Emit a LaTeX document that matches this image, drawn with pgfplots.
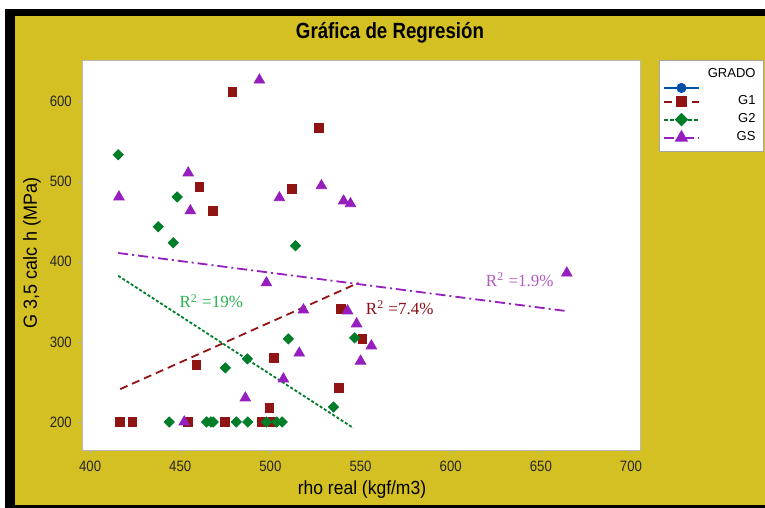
\documentclass[border=0pt]{standalone}
\usepackage{pgfplots}
\pgfplotsset{compat=1.18}
\usepackage{fontspec}
\setmainfont{Liberation Sans}
\newfontfamily\seriffont{Liberation Serif}
\definecolor{bgyellow}{RGB}{212,192,34}
\definecolor{gonered}{RGB}{145,20,20}
\definecolor{gtwogreen}{RGB}{0,125,40}
\definecolor{gspurple}{RGB}{150,30,190}
\definecolor{legblue}{RGB}{0,80,170}
\definecolor{lblgreen}{RGB}{40,180,80}
\definecolor{lblred}{RGB}{140,15,25}
\definecolor{lblpurple}{RGB}{180,90,190}
\begin{document}
\begin{tikzpicture}[x=1pt,y=1pt]
\fill[white] (0,0) rectangle (382.5,254);
\fill[black] (2.5,0) rectangle (382.5,249.5);
\fill[bgyellow] (7.5,1.5) rectangle (382.5,246);
\node[font=\bfseries\fontsize{11}{13}\selectfont] at (195,237.5) {\scalebox{0.85}[1]{Gráfica de Regresión}};
\node[font=\fontsize{9.5}{11}\selectfont] at (181,9) {\scalebox{0.92}[1]{rho real (kgf/m3)}};
\node[font=\fontsize{9.5}{11}\selectfont, rotate=90] at (16,127.5) {\scalebox{0.95}[1]{G 3,5 calc h (MPa)}};
\begin{axis}[
  at={(41pt,29pt)}, anchor=south west,
  scale only axis, width=279pt, height=195pt,
  xmin=395.5, xmax=705, ymin=165, ymax=652,
  xtick={400,450,...,700}, ytick={200,300,...,600},
  axis background/.style={fill=white},
  axis line style={gray!55},
  tick align=outside, major tick length=2pt,
  tick style={gray!60},
  xtick pos=bottom, ytick pos=left,
  /pgf/number format/assume math mode=true,
  ticklabel style={font=\fontsize{7.5}{9}\selectfont, xscale=0.88, text=black!85},
  clip=false,
  legend style={at={(1.034,1)}, anchor=north west, draw=gray!70, fill=white,
    font=\fontsize{6.5}{8}\selectfont, inner sep=2pt, row sep=-1pt, column sep=4pt},
  legend cell align=right,
]
\addlegendimage{empty legend}\addlegendentry{\makebox[22pt][r]{GRADO}}
\addlegendimage{legblue, solid, line width=1pt, mark=*, mark size=2pt}\addlegendentry{}
\addlegendimage{gonered, line width=1pt, dash pattern=on 4pt off 3pt, mark=square*, mark size=2.2pt, mark options={solid}}\addlegendentry{\makebox[22pt][r]{G1}}
\addlegendimage{gtwogreen, line width=1pt, dash pattern=on 1.8pt off 1.2pt, mark=square*, mark size=1.9pt, mark options={solid, rotate=45}}\addlegendentry{\makebox[22pt][r]{G2}}
\addlegendimage{gspurple, line width=1pt, dash pattern=on 5pt off 2pt on 1pt off 2pt, mark=triangle*, mark size=2.9pt, mark options={solid}}\addlegendentry{\makebox[22pt][r]{GS}}

% regression lines
\addplot[forget plot, gonered, line width=0.9pt, dash pattern=on 4pt off 2.5pt] coordinates {(416.7,241) (548.9,373.75)};
\addplot[forget plot, gtwogreen, line width=0.9pt, dash pattern=on 1.5pt off 1pt] coordinates {(415.6,382.5) (546,192.5)};
\addplot[forget plot, gspurple, line width=0.9pt, dash pattern=on 5pt off 2pt on 1pt off 2pt] coordinates {(415.6,411) (663.3,338.75)};

% G1
\addplot[forget plot, only marks, mark=square*, mark size=2.2pt, color=gonered] coordinates {
(478.9,612.5) (526.7,567.5) (460.6,493.75) (511.7,491) (468.3,463.75)
(538.9,341) (551,303.75) (502,280) (458.9,271) (537.8,242.5) (499.4,217.5)
(416.5,200) (423.5,200) (454.4,200) (474.6,200) (495.2,200) (501.3,200)};
% G2
\addplot[forget plot, only marks, mark=square*, mark size=1.8pt, mark options={rotate=45}, color=gtwogreen] coordinates {
(415.6,533.75) (448.3,481) (437.8,443.75) (446.1,423.75) (513.9,420)
(510,303.75) (546.7,305) (475,267.5) (487.2,278.75) (535,218.75)
(443.9,200) (464.6,200) (467,200) (468.3,200) (481.1,200) (487.4,200) (497.8,200) (503.5,200) (506.5,200)};
% GS
\addplot[forget plot, only marks, mark=triangle*, mark size=3pt, color=gspurple] coordinates {
(493.9,627) (454.4,511) (416,481) (505,480) (528.3,495) (540.6,476) (544.4,472.5)
(455.6,463.75) (497.8,373.75) (542.8,338.75) (518.3,340) (547.8,322.5) (556,295)
(516,286) (550,276) (507.2,253.75) (486.1,230) (452.2,200) (664.4,386)};

\node[font=\seriffont\fontsize{8.5}{10}\selectfont, text=lblgreen] at (axis cs:467.2,351) {R\textsuperscript{2} =19\%};
\node[font=\seriffont\fontsize{8.5}{10}\selectfont, text=lblred] at (axis cs:571.7,342.5) {R\textsuperscript{2} =7.4\%};
\node[font=\seriffont\fontsize{8.5}{10}\selectfont, text=lblpurple] at (axis cs:638.3,377.5) {R\textsuperscript{2} =1.9\%};
\end{axis}
\end{tikzpicture}
\end{document}
